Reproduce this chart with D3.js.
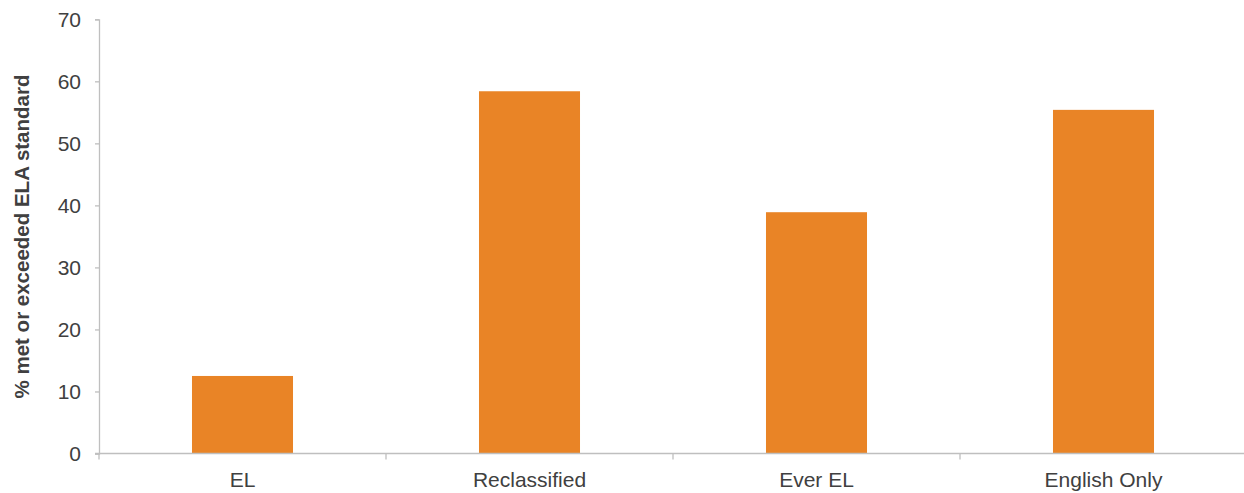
<!DOCTYPE html>
<html>
<head>
<meta charset="utf-8">
<script src="https://cdn.jsdelivr.net/npm/d3@7"></script>
<style>
  html, body { margin: 0; padding: 0; background: #fff; }
  svg { display: block; }
</style>
</head>
<body>
<svg id="chart" width="1244" height="493"></svg>
<script>
// Share of students meeting or exceeding the ELA standard, by language group
const categories = ["EL", "Reclassified", "Ever EL", "English Only"];
const values = [12.5, 58.4, 38.9, 55.4];
const yTicks = [0, 10, 20, 30, 40, 50, 60, 70];
const yTitle = "% met or exceeded ELA standard";

const svg = d3.select("#chart");
const plotLeft = 99, plotRight = 1247, plotTop = 19.3, plotBottom = 453.5;
const axisColor = "#bfbfbf", textColor = "#404040", barColor = "#e98426";
const font = "'Liberation Sans', Arial, sans-serif";

const x = d3.scaleBand().domain(categories).range([plotLeft, plotRight]).padding(0);
const y = d3.scaleLinear().domain([0, 70]).range([plotBottom, plotTop]);
const barW = x.bandwidth() * 0.352;

// bars
svg.append("g").selectAll("rect")
  .data(categories)
  .join("rect")
  .attr("x", d => x(d) + (x.bandwidth() - barW) / 2)
  .attr("y", (d, i) => y(values[i]))
  .attr("width", barW)
  .attr("height", (d, i) => y(0) - y(values[i]))
  .attr("fill", barColor);

// y axis
const yAxis = svg.append("g")
  .attr("transform", `translate(${plotLeft},0)`)
  .call(d3.axisLeft(y).tickValues(yTicks).tickSize(4).tickPadding(14).tickFormat(d3.format("d")));
yAxis.select(".domain").attr("stroke", axisColor).attr("stroke-width", 1.3);
yAxis.selectAll(".tick line").attr("stroke", axisColor).attr("stroke-width", 1.3);
yAxis.selectAll(".tick text")
  .attr("fill", textColor).style("font-family", font).style("font-size", "21px");

// x axis: tick marks at band boundaries, labels centered in bands
const xg = svg.append("g").attr("transform", `translate(0,${plotBottom})`);
xg.append("line")
  .attr("x1", plotLeft - 4).attr("x2", 1244)
  .attr("stroke", axisColor).attr("stroke-width", 1.3);
const bounds = categories.map(c => x(c)).concat([plotRight]);
xg.selectAll("line.bt")
  .data(bounds)
  .join("line")
  .attr("class", "bt")
  .attr("x1", d => d).attr("x2", d => d)
  .attr("y1", 0).attr("y2", 6)
  .attr("stroke", axisColor).attr("stroke-width", 1.3);
xg.selectAll("text")
  .data(categories)
  .join("text")
  .attr("x", d => x(d) + x.bandwidth() / 2)
  .attr("y", 33.5)
  .attr("text-anchor", "middle")
  .attr("fill", textColor)
  .style("font-family", font)
  .style("font-size", "21px")
  .text(d => d);

// y axis title
svg.append("text")
  .attr("transform", `translate(29,236.5) rotate(-90)`)
  .attr("text-anchor", "middle")
  .attr("fill", textColor)
  .style("font-family", font)
  .style("font-size", "20.5px")
  .style("font-weight", "bold")
  .text(yTitle);
</script>
</body>
</html>
